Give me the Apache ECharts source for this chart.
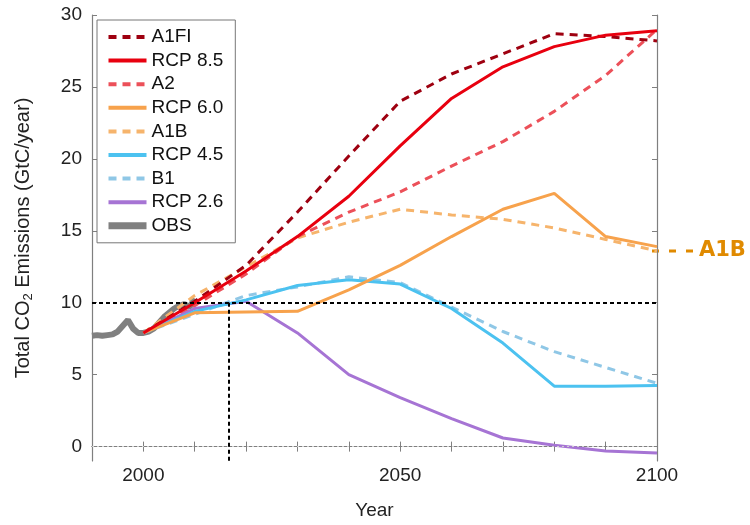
<!DOCTYPE html>
<html><head><meta charset="utf-8">
<script src="https://cdn.jsdelivr.net/npm/echarts@6/dist/echarts.min.js"></script>
<style>html,body{margin:0;padding:0;background:#fff}#c{width:750px;height:525px}</style>
</head><body><div id="c"></div>
<script>
// ---- data ----
const scenarioYears = [2000, 2010, 2020, 2030, 2040, 2050, 2060, 2070, 2080, 2090, 2100];
const a1fi  = [7.9, 10.1, 12.6, 16.3, 20.2, 24.0, 25.9, 27.3, 28.7, 28.5, 28.2];
const rcp85 = [7.9, 10.0, 12.2, 14.6, 17.4, 20.9, 24.2, 26.4, 27.8, 28.6, 28.9];
const a2    = [7.9, 9.8, 12.0, 14.6, 16.3, 17.7, 19.5, 21.2, 23.3, 25.8, 29.0];
const rcp60 = [7.9, 9.3, 9.35, 9.4, 10.9, 12.6, 14.6, 16.5, 17.6, 14.6, 13.9];
const a1b   = [7.9, 10.5, 12.5, 14.5, 15.6, 16.5, 16.1, 15.8, 15.2, 14.4, 13.6];
const rcp45 = [7.9, 9.4, 10.2, 11.2, 11.6, 11.3, 9.6, 7.2, 4.2, 4.2, 4.25];
const b1    = [7.9, 9.2, 10.5, 11.1, 11.8, 11.4, 9.7, 8.0, 6.6, 5.5, 4.4];
const rcp26 = [7.9, 9.6, 10.1, 7.9, 5.0, 3.4, 1.95, 0.6, 0.1, -0.3, -0.45];
const obsYears = [1990,1991,1992,1993,1994,1995,1996,1997,1998,1999,2000,2001,2002,2003,2004,2005,2006,2007,2008,2009,2010];
const obs      = [7.7, 7.75, 7.7, 7.75, 7.8, 8.0, 8.4, 8.8, 8.2, 7.9, 7.9, 8.0, 8.2, 8.6, 9.0, 9.3, 9.6, 9.8, 9.9, 9.7, 10.3];
const xTicks  = [2000, 2010, 2020, 2030, 2040, 2050, 2060, 2070, 2080, 2090, 2100];
const xLabels = [2000, 2050, 2100];
const yTicks  = [0, 5, 10, 15, 20, 25, 30];
const refLevel = 10;
const refYear = 2016.6;
const legendNames = ['A1FI', 'RCP 8.5', 'A2', 'RCP 6.0', 'A1B', 'RCP 4.5', 'B1', 'RCP 2.6', 'OBS'];

const FONT = 'Liberation Sans';
const chart = echarts.init(document.getElementById('c'), null, {renderer: 'canvas'});

function mk(name, xs, vals, color, dashed, width) {
  return {
    type: 'line', name: name,
    data: xs.map((x, i) => [x, vals[i]]),
    symbol: 'none', showSymbol: false, animation: false,
    lineStyle: {color: color, width: width, type: dashed ? [8, 6] : 'solid'},
    itemStyle: {color: color}
  };
}

const axisGrey = '#7f7f7f';
const tickStyle = {show: true, inside: true, length: 5, lineStyle: {color: axisGrey, width: 1}};
const plain = v => String(Math.round(v));

const option = {
  animation: false,
  backgroundColor: '#fff',
  textStyle: {fontFamily: FONT},
  grid: {left: 92, top: 15, width: 565, height: 446, containLabel: false},
  legend: {
    data: legendNames.map(n => ({name: n, lineStyle: {width: n === 'OBS' ? 7 : 4}})),
    orient: 'vertical', left: 97, top: 20,
    backgroundColor: '#fff',
    borderColor: '#777', borderWidth: 1, borderRadius: 0,
    padding: [7, 12, 7, 8],
    itemWidth: 38, itemHeight: 12, itemGap: 3.6, itemTextGap: 5,
    itemStyle: {opacity: 0, borderWidth: 0},
    textStyle: {fontSize: 19, color: '#111', fontFamily: FONT, lineHeight: 20}
  },
  xAxis: [{
    type: 'value', min: 1990, max: 2100,
    name: 'Year', nameLocation: 'middle', nameGap: 40,
    nameTextStyle: {fontSize: 19, color: '#222', fontFamily: FONT},
    axisLine: {show: true, lineStyle: {color: axisGrey, width: 1.2}},
    axisTick: Object.assign({customValues: xTicks}, tickStyle),
    axisLabel: {customValues: xLabels, formatter: plain, fontSize: 19, color: '#222', margin: 5, fontFamily: FONT},
    splitLine: {show: false}
  }, {
    type: 'value', min: 1990, max: 2100, position: 'top',
    axisLine: {show: true, lineStyle: {color: axisGrey, width: 1.2}},
    axisTick: Object.assign({customValues: xTicks}, tickStyle),
    axisLabel: {show: false}, splitLine: {show: false}
  }],
  yAxis: [{
    type: 'value', min: -1, max: 30,
    name: 'Total CO{sub|2} Emissions (GtC/year)',
    nameLocation: 'middle', nameGap: 57, nameRotate: 90,
    nameTextStyle: {
      fontSize: 20, color: '#222', fontFamily: FONT, lineHeight: 24,
      rich: {sub: {fontSize: 13, lineHeight: 13, verticalAlign: 'bottom', fontFamily: FONT, color: '#222'}}
    },
    axisLine: {show: true, lineStyle: {color: axisGrey, width: 1.2}},
    axisTick: Object.assign({customValues: yTicks}, tickStyle),
    axisLabel: {customValues: yTicks, formatter: plain, fontSize: 19, color: '#222', margin: 10, fontFamily: FONT},
    splitLine: {show: false}
  }, {
    type: 'value', min: -1, max: 30, position: 'right',
    axisLine: {show: true, lineStyle: {color: axisGrey, width: 1.2}},
    axisTick: Object.assign({customValues: yTicks}, tickStyle),
    axisLabel: {show: false}, splitLine: {show: false}
  }],
  series: [
    {
      type: 'line', name: 'refs', data: [], silent: true,
      markLine: {
        silent: true, symbol: 'none', label: {show: false}, animation: false,
        data: [
          {yAxis: 0, lineStyle: {color: '#cfcfcf', width: 1, type: [2, 3]}},
          {yAxis: refLevel, lineStyle: {color: '#000', width: 2, type: [4, 3]}},
          [{coord: [refYear, refLevel], lineStyle: {color: '#000', width: 2, type: [4, 3]}}, {coord: [refYear, -1]}]
        ]
      }
    },
    mk('OBS', obsYears, obs, '#808080', false, 6),
    mk('B1', scenarioYears, b1, '#8fc7e6', true, 3),
    mk('A1B', scenarioYears, a1b, '#f6b46c', true, 3),
    mk('A2', scenarioYears, a2, '#ec5059', true, 3),
    mk('A1FI', scenarioYears, a1fi, '#9e0010', true, 3),
    mk('RCP 2.6', scenarioYears, rcp26, '#a674d4', false, 3),
    mk('RCP 4.5', scenarioYears, rcp45, '#4cc2f0', false, 3),
    mk('RCP 6.0', scenarioYears, rcp60, '#f7a24c', false, 3),
    mk('RCP 8.5', scenarioYears, rcp85, '#e8000f', false, 3)
  ]
};
chart.setOption(option);

// A1B annotation positioned from the data through the chart's own scales
const endPt = chart.convertToPixel({gridIndex: 0}, [scenarioYears[scenarioYears.length - 1], a1b[a1b.length - 1]]);
chart.setOption({
  graphic: [
    {type: 'line', silent: true, shape: {x1: endPt[0] - 5, y1: endPt[1], x2: endPt[0] + 36, y2: endPt[1]},
     style: {stroke: '#e08a00', lineWidth: 3, lineDash: [7, 10]}},
    {type: 'text', silent: true, x: endPt[0] + 42, y: endPt[1],
     style: {text: 'A1B', fill: '#e08a00', fontSize: 21, fontWeight: 'bold', fontFamily: 'DejaVu Sans',
             align: 'left', verticalAlign: 'middle'}}
  ]
});
</script>
</body></html>
